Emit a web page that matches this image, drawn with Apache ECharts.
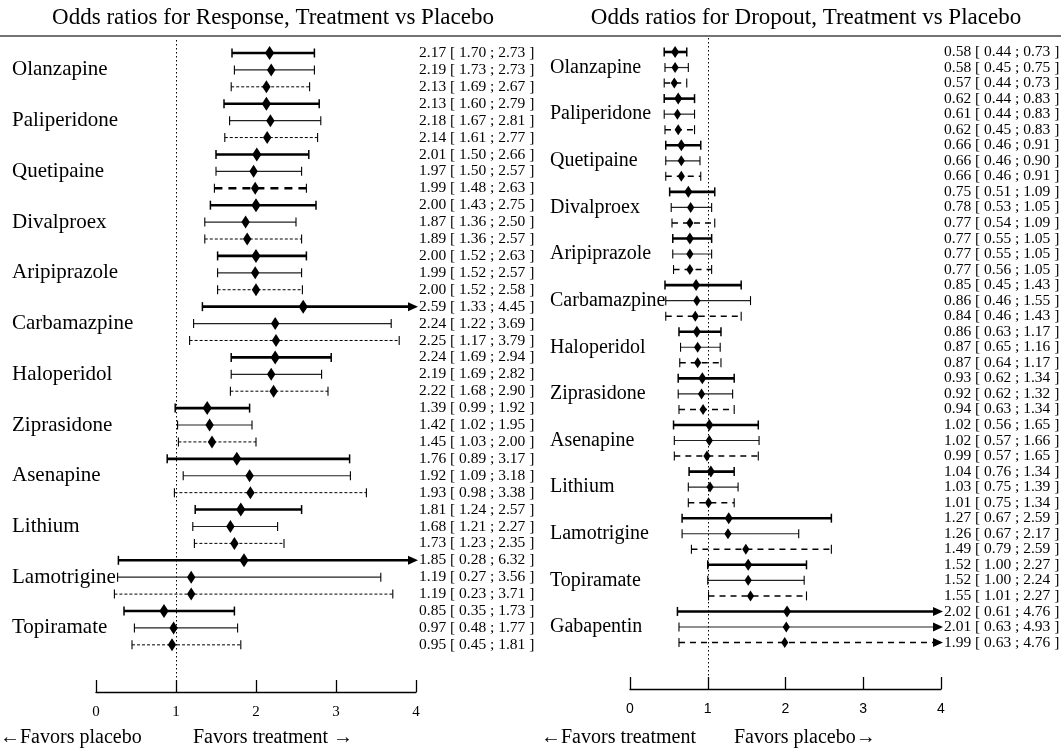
<!DOCTYPE html>
<html>
<head>
<meta charset="utf-8">
<script src="https://cdn.jsdelivr.net/npm/echarts@6/dist/echarts.min.js"></script>
<style>
html,body{margin:0;padding:0;background:#fff;}
#chart{width:1061px;height:752px;}
</style>
</head>
<body>
<div id="chart"></div>
<script>
// ---------- DATA ----------
const respDrugs = ['Olanzapine','Paliperidone','Quetipaine','Divalproex','Aripiprazole','Carbamazpine','Haloperidol','Ziprasidone','Asenapine','Lithium','Lamotrigine','Topiramate'];
const respOR = [2.17,2.19,2.13, 2.13,2.18,2.14, 2.01,1.97,1.99, 2.00,1.87,1.89, 2.00,1.99,2.00, 2.59,2.24,2.25, 2.24,2.19,2.22, 1.39,1.42,1.45, 1.76,1.92,1.93, 1.81,1.68,1.73, 1.85,1.19,1.19, 0.85,0.97,0.95];
const respLo = [1.70,1.73,1.69, 1.60,1.67,1.61, 1.50,1.50,1.48, 1.43,1.36,1.36, 1.52,1.52,1.52, 1.33,1.22,1.17, 1.69,1.69,1.68, 0.99,1.02,1.03, 0.89,1.09,0.98, 1.24,1.21,1.23, 0.28,0.27,0.23, 0.35,0.48,0.45];
const respHi = [2.73,2.73,2.67, 2.79,2.81,2.77, 2.66,2.57,2.63, 2.75,2.50,2.57, 2.63,2.57,2.58, 4.45,3.69,3.79, 2.94,2.82,2.90, 1.92,1.95,2.00, 3.17,3.18,3.38, 2.57,2.27,2.35, 6.32,3.56,3.71, 1.73,1.77,1.81];

const dropDrugs = ['Olanzapine','Paliperidone','Quetipaine','Divalproex','Aripiprazole','Carbamazpine','Haloperidol','Ziprasidone','Asenapine','Lithium','Lamotrigine','Topiramate','Gabapentin'];
const dropOR = [0.58,0.58,0.57, 0.62,0.61,0.62, 0.66,0.66,0.66, 0.75,0.78,0.77, 0.77,0.77,0.77, 0.85,0.86,0.84, 0.86,0.87,0.87, 0.93,0.92,0.94, 1.02,1.02,0.99, 1.04,1.03,1.01, 1.27,1.26,1.49, 1.52,1.52,1.55, 2.02,2.01,1.99];
const dropLo = [0.44,0.45,0.44, 0.44,0.44,0.45, 0.46,0.46,0.46, 0.51,0.53,0.54, 0.55,0.55,0.56, 0.45,0.46,0.46, 0.63,0.65,0.64, 0.62,0.62,0.63, 0.56,0.57,0.57, 0.76,0.75,0.75, 0.67,0.67,0.79, 1.00,1.00,1.01, 0.61,0.63,0.63];
const dropHi = [0.73,0.75,0.73, 0.83,0.83,0.83, 0.91,0.90,0.91, 1.09,1.05,1.09, 1.05,1.05,1.05, 1.43,1.55,1.43, 1.17,1.16,1.17, 1.34,1.32,1.34, 1.65,1.66,1.65, 1.34,1.39,1.34, 2.59,2.17,2.59, 2.27,2.24,2.27, 4.76,4.93,4.76];

const titles = ['Odds ratios for Response, Treatment vs Placebo', 'Odds ratios for Dropout, Treatment vs Placebo'];
const favorTexts = [['\u2190Favors placebo', 'Favors treatment \u2192'], ['\u2190Favors treatment', 'Favors placebo\u2192']];

// ---------- LAYOUT / STYLE ----------
const SERIF = '"Liberation Serif","Times New Roman",serif';
const SANS = '"Liberation Sans",Arial,sans-serif';

function buildData(drugs, ors, los, his) {
  const out = [];
  for (let i = 0; i < ors.length; i++) {
    out.push([i, ors[i], los[i], his[i], i % 3, Math.floor(i / 3)]);
  }
  return out;
}

const panels = [
  { drugs: respDrugs, data: buildData(respDrugs, respOR, respLo, respHi),
    grid: {left: 96, top: 40, width: 320, height: 652}, rowTop: 53, rowStep: 16.91,
    labelOffset: 84, labelSize: 21, dH: 6.5, dW: 4.2,
    style: function (k, d) {
      if (k === 0) return {w: 2.6, dash: null, color: '#000'};
      if (k === 1) return {w: 1.2, dash: null, color: '#222'};
      if (respDrugs[d] === 'Quetipaine') return {w: 2.6, dash: [8, 6], color: '#000'};
      return {w: 1, dash: [3, 2], color: '#000'};
    },
    tickFont: SERIF, tickSize: 15 },
  { drugs: dropDrugs, data: buildData(dropDrugs, dropOR, dropLo, dropHi),
    grid: {left: 630, top: 38, width: 311, height: 651}, rowTop: 52, rowStep: 15.54,
    labelOffset: 80, labelSize: 20, dH: 5.5, dW: 3.6,
    style: function (k, d) {
      if (k === 0) return {w: 2.6, dash: null, color: '#000'};
      if (k === 1) return {w: 1.2, dash: null, color: '#222'};
      return {w: 1.5, dash: [6, 5], color: '#000'};
    },
    tickFont: SANS, tickSize: 14 }
];

function makeRender(p) {
  return function (params, api) {
    const row = api.value(0), or = api.value(1), lo = api.value(2), hi = api.value(3);
    const k = api.value(4), d = api.value(5);
    const y = api.coord([0, row])[1];
    const x0 = api.coord([0, row])[0];
    const x4 = api.coord([4, row])[0];
    const xl = api.coord([lo, row])[0];
    const xo = api.coord([or, row])[0];
    const arrow = hi > 4;
    const xh = arrow ? x4 : api.coord([hi, row])[0];
    const st = p.style(k, d);
    const capH = 4.5;
    const children = [];
    children.push({type: 'line', shape: {x1: xl, y1: y, x2: arrow ? x4 - 7 : xh, y2: y},
      style: {stroke: st.color, lineWidth: st.w, lineDash: st.dash}});
    children.push({type: 'line', shape: {x1: xl, y1: y - capH, x2: xl, y2: y + capH},
      style: {stroke: '#000', lineWidth: k === 0 ? 1.5 : 1.1}});
    if (arrow) {
      children.push({type: 'polygon', shape: {points: [[x4 + 2, y], [x4 - 8, y - 4.5], [x4 - 8, y + 4.5]]},
        style: {fill: '#000'}});
    } else {
      children.push({type: 'line', shape: {x1: xh, y1: y - capH, x2: xh, y2: y + capH},
        style: {stroke: '#000', lineWidth: k === 0 ? 1.5 : 1.1}});
    }
    const dh = p.dH + (k === 0 ? 0.5 : 0), dw = p.dW + (k === 0 ? 0.4 : 0);
    children.push({type: 'polygon', shape: {points: [[xo, y - dh], [xo + dw, y], [xo, y + dh], [xo - dw, y]]},
      style: {fill: '#000'}});
    const txt = or.toFixed(2) + ' [ ' + lo.toFixed(2) + ' ; ' + hi.toFixed(2) + ' ]';
    children.push({type: 'text', x: x4 + 3, y: y,
      style: {text: txt, font: '15.5px ' + SERIF, fill: '#000', align: 'left', textAlign: 'left',
              verticalAlign: 'middle', textVerticalAlign: 'middle'}});
    if (k === 1) {
      children.push({type: 'text', x: x0 - p.labelOffset, y: y,
        style: {text: p.drugs[d], font: p.labelSize + 'px ' + SERIF, fill: '#000', align: 'left', textAlign: 'left',
                verticalAlign: 'middle', textVerticalAlign: 'middle'}});
    }
    return {type: 'group', children: children};
  };
}

const grids = [], xAxes = [], yAxes = [], series = [];
panels.forEach(function (p, i) {
  grids.push(p.grid);
  const yMin = -(p.rowTop - p.grid.top) / p.rowStep;
  const yMax = yMin + p.grid.height / p.rowStep;
  xAxes.push({type: 'value', gridIndex: i, min: 0, max: 4, interval: 1,
    axisLine: {show: true, onZero: false, lineStyle: {color: '#000', width: 1.3}},
    axisTick: {show: true, inside: true, length: 12, lineStyle: {color: '#000', width: 1.3}},
    axisLabel: {show: true, margin: 13, color: '#000', fontSize: p.tickSize, fontFamily: p.tickFont},
    splitLine: {show: false}});
  yAxes.push({type: 'value', gridIndex: i, min: yMin, max: yMax, inverse: true, show: false,
    splitLine: {show: false}});
  series.push({type: 'custom', xAxisIndex: i, yAxisIndex: i, clip: false, silent: true,
    renderItem: makeRender(p), data: p.data, z: 5,
    markLine: {silent: true, symbol: 'none', label: {show: false},
      lineStyle: {color: '#000', type: [1.5, 2.5], width: 1}, data: [{xAxis: 1}]}});
});

const graphics = [
  {type: 'line', shape: {x1: 0, y1: 36, x2: 1061, y2: 36}, style: {stroke: '#444', lineWidth: 1.5}},
  {type: 'text', x: 273, y: 18, style: {text: titles[0], font: '23px ' + SERIF, fill: '#000',
    align: 'center', textAlign: 'center', verticalAlign: 'middle', textVerticalAlign: 'middle'}},
  {type: 'text', x: 806, y: 18, style: {text: titles[1], font: '23px ' + SERIF, fill: '#000',
    align: 'center', textAlign: 'center', verticalAlign: 'middle', textVerticalAlign: 'middle'}},
  {type: 'text', x: 0, y: 738, style: {text: favorTexts[0][0], font: '20px ' + SERIF, fill: '#000', verticalAlign: 'middle', textVerticalAlign: 'middle'}},
  {type: 'text', x: 193, y: 738, style: {text: favorTexts[0][1], font: '20px ' + SERIF, fill: '#000', verticalAlign: 'middle', textVerticalAlign: 'middle'}},
  {type: 'text', x: 541, y: 738, style: {text: favorTexts[1][0], font: '20px ' + SERIF, fill: '#000', verticalAlign: 'middle', textVerticalAlign: 'middle'}},
  {type: 'text', x: 734, y: 738, style: {text: favorTexts[1][1], font: '20px ' + SERIF, fill: '#000', verticalAlign: 'middle', textVerticalAlign: 'middle'}}
];

const chart = echarts.init(document.getElementById('chart'), null, {renderer: 'canvas'});
chart.setOption({
  animation: false,
  backgroundColor: '#fff',
  grid: grids,
  xAxis: xAxes,
  yAxis: yAxes,
  series: series,
  graphic: graphics
});
</script>
</body>
</html>
